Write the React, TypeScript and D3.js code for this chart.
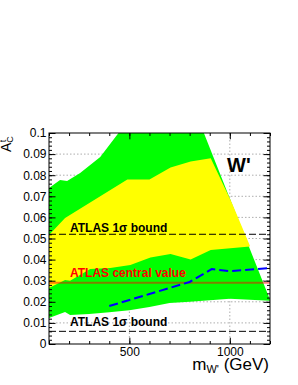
import { useEffect, useRef } from 'react';
import * as d3 from 'd3';

// band edges (mass in GeV, A_C^t)
const greenUpperMass = [100, 155, 190, 255, 355, 450, 800, 1200];
const greenUpper = [0.0739, 0.0777, 0.0773, 0.081, 0.0886, 0.1005, 0.117, 0.021];
const greenLowerMass = [100, 180, 205, 300, 400, 500, 600, 700, 800, 1000, 1200];
const greenLower = [0.0123, 0.0152, 0.0137, 0.0142, 0.015, 0.016, 0.0175, 0.0194, 0.02, 0.0215, 0.0205];

const yellowUpperMass = [100, 180, 490, 600, 705, 805, 905, 1010, 1100];
const yellowUpper = [0.0517, 0.0597, 0.078, 0.078, 0.0836, 0.0865, 0.088, 0.067, 0.0466];
const yellowLowerMass = [100, 180, 205, 305, 405, 505, 605, 705, 805, 905, 1100];
const yellowLower = [0.0265, 0.0303, 0.03, 0.0355, 0.036, 0.0375, 0.041, 0.0427, 0.04, 0.0445, 0.0462];

const predMass = [400, 600, 800, 910, 1000, 1200];
const predValue = [0.018, 0.0237, 0.0294, 0.0355, 0.0345, 0.036];

const atlasCentral = 0.029;
const atlasSigma = 0.023;

const yMajor = [0, 0.01, 0.02, 0.03, 0.04, 0.05, 0.06, 0.07, 0.08, 0.09, 0.1];
const xMajor = [500, 1000];

const FONT = '"Liberation Sans", Arial, Helvetica, sans-serif';

export default function App() {
  const ref = useRef<SVGSVGElement>(null);

  useEffect(() => {
    const width = 298;
    const height = 385;
    const svg = d3.select(ref.current);
    svg.selectAll('*').remove();
    svg.attr('viewBox', `0 0 ${width} ${height}`);

    const left = 49;
    const right = 270;
    const top = 133;
    const bottom = 344;

    const x = d3.scaleLinear().domain([100, 1200]).range([left, right]);
    const y = d3.scaleLinear().domain([0, 0.1]).range([bottom, top]);

    svg.append('rect').attr('width', width).attr('height', height).attr('fill', '#fff');

    svg
      .append('clipPath')
      .attr('id', 'plot-clip')
      .append('rect')
      .attr('x', left)
      .attr('y', top)
      .attr('width', right - left)
      .attr('height', bottom - top);

    // grid
    const grid = svg.append('g').attr('stroke', '#999').attr('stroke-dasharray', '1.5,2').attr('stroke-width', 0.8);
    grid
      .selectAll('.gy')
      .data(yMajor.slice(1, -1))
      .join('line')
      .attr('x1', left)
      .attr('x2', right)
      .attr('y1', (d) => y(d))
      .attr('y2', (d) => y(d));
    grid
      .selectAll('.gx')
      .data(xMajor)
      .join('line')
      .attr('x1', (d) => x(d))
      .attr('x2', (d) => x(d))
      .attr('y1', top)
      .attr('y2', bottom);

    const plot = svg.append('g').attr('clip-path', 'url(#plot-clip)');
    const poly = d3
      .line<[number, number]>()
      .x((d) => x(d[0]))
      .y((d) => y(d[1]))
      .curve(d3.curveLinearClosed);

    const band = (um: number[], uv: number[], lm: number[], lv: number[]) => {
      const up = um.map((m, i) => [m, uv[i]] as [number, number]);
      const lo = lm.map((m, i) => [m, lv[i]] as [number, number]).reverse();
      return poly(up.concat(lo));
    };

    plot.append('path').attr('d', band(greenUpperMass, greenUpper, greenLowerMass, greenLower)).attr('fill', '#00ff00');
    plot.append('path').attr('d', band(yellowUpperMass, yellowUpper, yellowLowerMass, yellowLower)).attr('fill', '#ffff00');

    // ATLAS lines
    [atlasCentral + atlasSigma, atlasCentral - atlasSigma].forEach((v) => {
      plot
        .append('line')
        .attr('x1', left)
        .attr('x2', right)
        .attr('y1', y(v))
        .attr('y2', y(v))
        .attr('stroke', '#000')
        .attr('stroke-width', 1)
        .attr('stroke-dasharray', '7,3');
    });
    plot
      .append('line')
      .attr('x1', left)
      .attr('x2', right)
      .attr('y1', y(atlasCentral))
      .attr('y2', y(atlasCentral))
      .attr('stroke', '#ff0000')
      .attr('stroke-opacity', 0.5)
      .attr('stroke-width', 2);

    plot
      .append('path')
      .attr(
        'd',
        d3
          .line<number>()
          .x((d) => x(d))
          .y((d, i) => y(predValue[i]))(predMass)
      )
      .attr('fill', 'none')
      .attr('stroke', '#0000ff')
      .attr('stroke-width', 2)
      .attr('stroke-dasharray', '9,4');

    // axes
    const minorY = d3.range(0, 0.1001, 0.002);
    const minorX = d3.range(100, 1201, 100);
    const style = (g: any) => {
      g.select('.domain').remove();
      g.selectAll('line').attr('stroke', '#000');
      g.selectAll('text').attr('font-family', FONT).attr('font-size', 12).attr('fill', '#000');
    };

    svg
      .append('g')
      .attr('transform', `translate(${left},0)`)
      .call(d3.axisLeft(y).tickValues(minorY).tickSize(-3).tickFormat(() => ''))
      .call(style);
    svg
      .append('g')
      .attr('transform', `translate(${left},0)`)
      .call(
        d3
          .axisLeft(y)
          .tickValues(yMajor)
          .tickSize(-6.5)
          .tickPadding(2.5)
          .tickFormat((v) => d3.format('.2~f')(v as number))
      )
      .call(style);
    svg
      .append('g')
      .attr('transform', `translate(${right},0)`)
      .call(d3.axisRight(y).tickValues(minorY).tickSize(-3).tickFormat(() => ''))
      .call(style);
    svg
      .append('g')
      .attr('transform', `translate(${right},0)`)
      .call(d3.axisRight(y).tickValues(yMajor).tickSize(-6.5).tickFormat(() => ''))
      .call(style);

    svg
      .append('g')
      .attr('transform', `translate(0,${bottom})`)
      .call(d3.axisBottom(x).tickValues(minorX).tickSize(-3).tickFormat(() => ''))
      .call(style);
    svg
      .append('g')
      .attr('transform', `translate(0,${bottom})`)
      .call(
        d3
          .axisBottom(x)
          .tickValues(xMajor)
          .tickSize(-6.3)
          .tickPadding(3.5)
          .tickFormat((v) => d3.format('d')(v as number))
      )
      .call(style);
    svg
      .append('g')
      .attr('transform', `translate(0,${top})`)
      .call(d3.axisTop(x).tickValues(minorX).tickSize(-3).tickFormat(() => ''))
      .call(style);
    svg
      .append('g')
      .attr('transform', `translate(0,${top})`)
      .call(d3.axisTop(x).tickValues(xMajor).tickSize(-6.3).tickFormat(() => ''))
      .call(style);

    svg
      .append('rect')
      .attr('x', left)
      .attr('y', top)
      .attr('width', right - left)
      .attr('height', bottom - top)
      .attr('fill', 'none')
      .attr('stroke', '#000')
      .attr('stroke-width', 1);

    // annotations
    const label = (txt: string, px: number, py: number, color: string, size = 12) =>
      svg
        .append('text')
        .attr('x', px)
        .attr('y', py)
        .attr('font-family', FONT)
        .attr('font-weight', 'bold')
        .attr('font-size', size)
        .attr('fill', color)
        .text(txt);

    label('ATLAS 1σ bound', 70, y(atlasCentral + atlasSigma) - 2.3, '#000');
    label('ATLAS central value', 70, y(atlasCentral) - 5.5, '#ff0000');
    label('ATLAS 1σ bound', 70, y(atlasCentral - atlasSigma) - 5.5, '#000');
    label("W'", 227, 172, '#000', 20);

    const yl = svg
      .append('text')
      .attr('transform', `translate(11,152) rotate(-90)`)
      .attr('font-family', FONT)
      .attr('fill', '#000');
    yl.append('tspan').attr('font-size', 14).text('A');
    yl.append('tspan').attr('font-size', 9).attr('dy', 1.5).text('C');
    yl.append('tspan').attr('font-size', 9).attr('dx', -6).attr('dy', -6.5).text('t');

    const xl = svg
      .append('text')
      .attr('x', 269)
      .attr('y', 370)
      .attr('text-anchor', 'end')
      .attr('font-family', FONT)
      .attr('font-size', 17)
      .attr('fill', '#000');
    xl.append('tspan').text('m');
    xl.append('tspan').attr('font-size', 11).attr('dy', 3).text("W'");
    xl.append('tspan').attr('dy', -3).text(' (GeV)');
  }, []);

  return <svg ref={ref} width={298} height={385} style={{ position: 'absolute', left: 0, top: 0 }} />;
}
